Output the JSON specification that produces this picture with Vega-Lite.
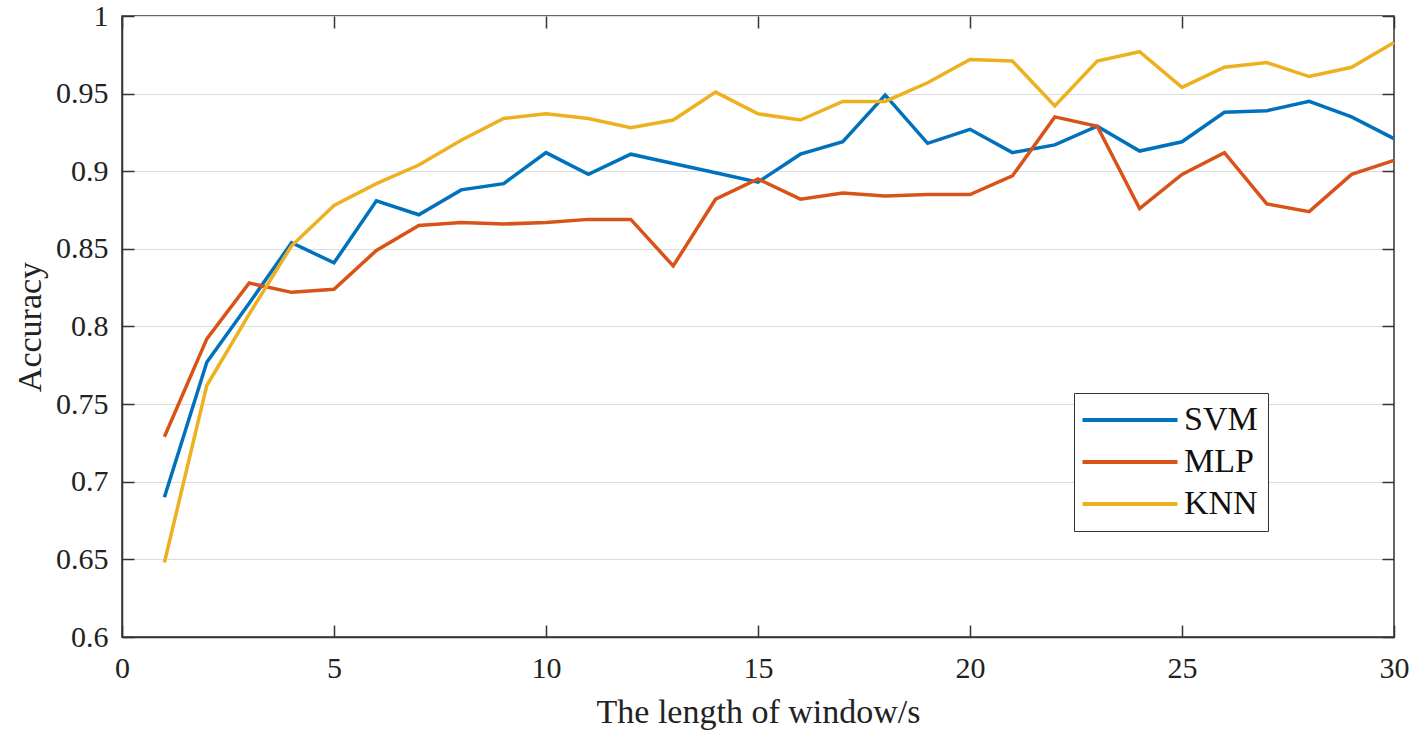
{
  "$schema": "https://vega.github.io/schema/vega-lite/v6.json",
  "width": 1272,
  "height": 621,
  "autosize": {"type": "none"},
  "padding": {"left": 122, "top": 16, "right": 23, "bottom": 99},
  "background": "white",
  "config": {
    "view": {"stroke": "#333", "strokeWidth": 1.5},
    "font": "Liberation Serif, serif",
    "axis": {"labelFont": "Liberation Serif, serif", "titleFont": "Liberation Serif, serif", "labelColor": "#222", "titleColor": "#222", "domainColor": "#333", "tickColor": "#333", "titleFontWeight": "normal", "labelFlush": false},
    "legend": {"labelFont": "Liberation Serif, serif"}
  },
  "data": {
    "values": [
      {"x":1,"SVM":0.690,"MLP":0.729,"KNN":0.648},
      {"x":2,"SVM":0.777,"MLP":0.792,"KNN":0.762},
      {"x":3,"SVM":0.815,"MLP":0.828,"KNN":0.808},
      {"x":4,"SVM":0.854,"MLP":0.822,"KNN":0.852},
      {"x":5,"SVM":0.841,"MLP":0.824,"KNN":0.878},
      {"x":6,"SVM":0.881,"MLP":0.849,"KNN":0.892},
      {"x":7,"SVM":0.872,"MLP":0.865,"KNN":0.904},
      {"x":8,"SVM":0.888,"MLP":0.867,"KNN":0.920},
      {"x":9,"SVM":0.892,"MLP":0.866,"KNN":0.934},
      {"x":10,"SVM":0.912,"MLP":0.867,"KNN":0.937},
      {"x":11,"SVM":0.898,"MLP":0.869,"KNN":0.934},
      {"x":12,"SVM":0.911,"MLP":0.869,"KNN":0.928},
      {"x":13,"SVM":0.905,"MLP":0.839,"KNN":0.933},
      {"x":14,"SVM":0.899,"MLP":0.882,"KNN":0.951},
      {"x":15,"SVM":0.893,"MLP":0.895,"KNN":0.937},
      {"x":16,"SVM":0.911,"MLP":0.882,"KNN":0.933},
      {"x":17,"SVM":0.919,"MLP":0.886,"KNN":0.945},
      {"x":18,"SVM":0.949,"MLP":0.884,"KNN":0.945},
      {"x":19,"SVM":0.918,"MLP":0.885,"KNN":0.957},
      {"x":20,"SVM":0.927,"MLP":0.885,"KNN":0.972},
      {"x":21,"SVM":0.912,"MLP":0.897,"KNN":0.971},
      {"x":22,"SVM":0.917,"MLP":0.935,"KNN":0.942},
      {"x":23,"SVM":0.929,"MLP":0.929,"KNN":0.971},
      {"x":24,"SVM":0.913,"MLP":0.876,"KNN":0.977},
      {"x":25,"SVM":0.919,"MLP":0.898,"KNN":0.954},
      {"x":26,"SVM":0.938,"MLP":0.912,"KNN":0.967},
      {"x":27,"SVM":0.939,"MLP":0.879,"KNN":0.970},
      {"x":28,"SVM":0.945,"MLP":0.874,"KNN":0.961},
      {"x":29,"SVM":0.935,"MLP":0.898,"KNN":0.967},
      {"x":30,"SVM":0.921,"MLP":0.907,"KNN":0.983}
    ]
  },
  "transform": [{"fold": ["SVM", "MLP", "KNN"], "as": ["model", "acc"]}],
  "layer": [
    {
      "mark": {"type": "line", "strokeWidth": 3.5},
      "encoding": {
        "x": {"field": "x", "type": "quantitative", "scale": {"domain": [0, 30], "nice": false},
              "axis": {"values": [0,5,10,15,20,25,30], "title": "The length of window/s", "titleFont": "Liberation Serif, serif", "labelFont": "Liberation Serif, serif", "titleFontSize": 34, "titlePadding": 12, "labelFontSize": 30, "labelPadding": 28, "labelFlush": false, "tickSize": -12, "grid": false, "domainWidth": 1.5, "tickWidth": 1.5}},
        "y": {"field": "acc", "type": "quantitative", "scale": {"domain": [0.6, 1], "nice": false, "zero": false},
              "axis": {"values": [0.6,0.65,0.7,0.75,0.8,0.85,0.9,0.95,1], "format": ".2~f", "title": "Accuracy", "titleFont": "Liberation Serif, serif", "labelFont": "Liberation Serif, serif", "titleFontSize": 34, "titlePadding": 8, "labelFontSize": 30, "labelPadding": 26, "labelFlush": false, "tickSize": -12, "grid": true, "gridColor": "#dcdcdc", "gridWidth": 1.2, "domainWidth": 1.5, "tickWidth": 1.5}},
        "color": {"field": "model", "type": "nominal", "sort": ["SVM", "MLP", "KNN"],
                  "scale": {"domain": ["SVM", "MLP", "KNN"], "range": ["#0072BD", "#D95319", "#EDB120"]},
                  "legend": {"title": null, "orient": "none", "legendX": 952, "legendY": 377, "symbolType": "M-5,0H5", "symbolSize": 361, "symbolOffset": 29, "symbolStrokeWidth": 4, "symbolFillColor": "transparent", "labelFontSize": 34, "labelFont": "Liberation Serif, serif", "labelColor": "#111", "labelOffset": 37, "rowPadding": 8, "padding": 10, "strokeColor": "#333", "fillColor": "white"}}
      }
    },
    {
      "mark": {"type": "line", "opacity": 0},
      "encoding": {
        "x": {"field": "x", "type": "quantitative", "scale": {"domain": [0, 30], "nice": false},
              "axis": {"orient": "top", "values": [0,5,10,15,20,25,30], "title": null, "labels": false, "tickSize": -12, "grid": false, "domain": false, "tickWidth": 1.5}},
        "y": {"field": "acc", "type": "quantitative", "scale": {"domain": [0.6, 1], "nice": false, "zero": false},
              "axis": {"orient": "right", "values": [0.6,0.65,0.7,0.75,0.8,0.85,0.9,0.95,1], "title": null, "labels": false, "tickSize": -12, "grid": false, "domain": false, "tickWidth": 1.5}},
        "detail": {"field": "model"}
      }
    }
  ],
  "resolve": {"axis": {"x": "independent", "y": "independent"}}
}
